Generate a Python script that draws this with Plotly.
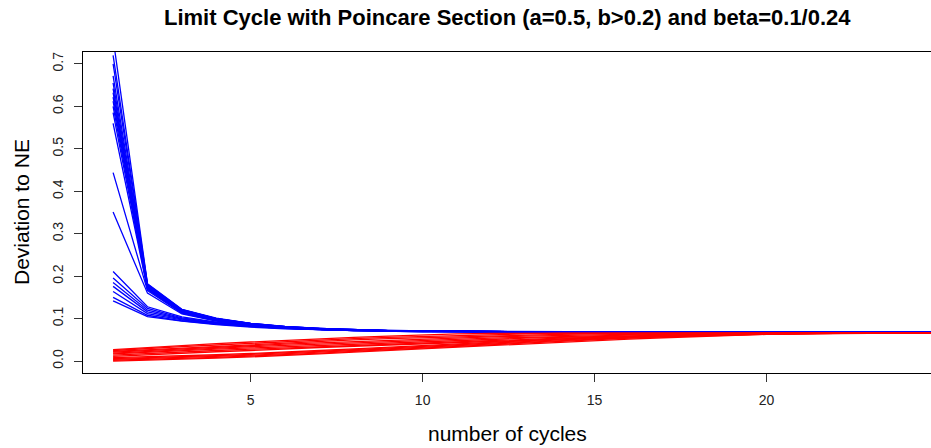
import plotly.graph_objects as go

# ---------------- data ----------------
cycles = [1, 2, 3, 4, 5, 6, 7, 8, 9, 10, 11, 12, 13, 14, 15, 16, 17, 18, 19, 20, 21, 22, 23, 24, 25]

y_tick_vals = [0.0, 0.1, 0.2, 0.3, 0.4, 0.5, 0.6, 0.7]
y_tick_text = ["0.0", "0.1", "0.2", "0.3", "0.4", "0.5", "0.6", "0.7"]
x_tick_vals = [5, 10, 15, 20]

# beta = 0.1 (blue) trajectories: deviation to NE per cycle
blue_01 = [0.760, 0.182, 0.122, 0.101, 0.089, 0.082, 0.077, 0.074, 0.072, 0.071, 0.070, 0.070, 0.069, 0.069, 0.069, 0.069, 0.068, 0.068, 0.068, 0.068, 0.068, 0.068, 0.068, 0.068, 0.068]
blue_02 = [0.720, 0.181, 0.121, 0.100, 0.089, 0.081, 0.077, 0.074, 0.072, 0.071, 0.070, 0.070, 0.069, 0.069, 0.069, 0.069, 0.068, 0.068, 0.068, 0.068, 0.068, 0.068, 0.068, 0.068, 0.068]
blue_03 = [0.700, 0.180, 0.121, 0.100, 0.089, 0.081, 0.077, 0.074, 0.072, 0.071, 0.070, 0.070, 0.069, 0.069, 0.069, 0.069, 0.068, 0.068, 0.068, 0.068, 0.068, 0.068, 0.068, 0.068, 0.068]
blue_04 = [0.672, 0.178, 0.120, 0.100, 0.088, 0.081, 0.077, 0.074, 0.072, 0.071, 0.070, 0.070, 0.069, 0.069, 0.069, 0.069, 0.068, 0.068, 0.068, 0.068, 0.068, 0.068, 0.068, 0.068, 0.068]
blue_05 = [0.655, 0.177, 0.119, 0.099, 0.088, 0.081, 0.076, 0.074, 0.072, 0.071, 0.070, 0.070, 0.069, 0.069, 0.069, 0.069, 0.068, 0.068, 0.068, 0.068, 0.068, 0.068, 0.068, 0.068, 0.068]
blue_06 = [0.642, 0.176, 0.118, 0.099, 0.088, 0.080, 0.076, 0.073, 0.072, 0.070, 0.070, 0.069, 0.069, 0.069, 0.068, 0.068, 0.068, 0.068, 0.068, 0.068, 0.068, 0.068, 0.068, 0.068, 0.068]
blue_07 = [0.632, 0.175, 0.118, 0.098, 0.087, 0.080, 0.076, 0.073, 0.071, 0.070, 0.070, 0.069, 0.069, 0.069, 0.068, 0.068, 0.068, 0.068, 0.068, 0.068, 0.068, 0.068, 0.068, 0.068, 0.068]
blue_08 = [0.622, 0.174, 0.117, 0.098, 0.087, 0.080, 0.076, 0.073, 0.071, 0.070, 0.070, 0.069, 0.069, 0.069, 0.068, 0.068, 0.068, 0.068, 0.068, 0.068, 0.068, 0.068, 0.068, 0.068, 0.068]
blue_09 = [0.612, 0.173, 0.116, 0.097, 0.086, 0.080, 0.076, 0.073, 0.071, 0.070, 0.070, 0.069, 0.069, 0.069, 0.068, 0.068, 0.068, 0.068, 0.068, 0.068, 0.068, 0.068, 0.068, 0.068, 0.068]
blue_10 = [0.600, 0.172, 0.115, 0.097, 0.086, 0.079, 0.075, 0.073, 0.071, 0.070, 0.070, 0.069, 0.069, 0.069, 0.068, 0.068, 0.068, 0.068, 0.068, 0.068, 0.068, 0.068, 0.068, 0.068, 0.068]
blue_11 = [0.585, 0.170, 0.114, 0.096, 0.085, 0.079, 0.075, 0.073, 0.071, 0.070, 0.070, 0.069, 0.069, 0.069, 0.068, 0.068, 0.068, 0.068, 0.068, 0.068, 0.068, 0.068, 0.068, 0.068, 0.068]
blue_12 = [0.560, 0.169, 0.114, 0.096, 0.085, 0.079, 0.075, 0.073, 0.071, 0.070, 0.070, 0.069, 0.069, 0.069, 0.068, 0.068, 0.068, 0.068, 0.068, 0.068, 0.068, 0.068, 0.068, 0.068, 0.068]
blue_13 = [0.444, 0.166, 0.113, 0.095, 0.085, 0.079, 0.075, 0.073, 0.071, 0.070, 0.070, 0.069, 0.069, 0.069, 0.068, 0.068, 0.068, 0.068, 0.068, 0.068, 0.068, 0.068, 0.068, 0.068, 0.068]
blue_14 = [0.351, 0.160, 0.111, 0.094, 0.084, 0.078, 0.075, 0.072, 0.071, 0.070, 0.070, 0.069, 0.069, 0.069, 0.068, 0.068, 0.068, 0.068, 0.068, 0.068, 0.068, 0.068, 0.068, 0.068, 0.068]
blue_15 = [0.211, 0.128, 0.104, 0.092, 0.084, 0.079, 0.075, 0.073, 0.071, 0.070, 0.070, 0.069, 0.069, 0.069, 0.068, 0.068, 0.068, 0.068, 0.068, 0.068, 0.068, 0.068, 0.068, 0.068, 0.068]
blue_16 = [0.196, 0.124, 0.102, 0.091, 0.083, 0.078, 0.075, 0.072, 0.071, 0.070, 0.070, 0.069, 0.069, 0.069, 0.068, 0.068, 0.068, 0.068, 0.068, 0.068, 0.068, 0.068, 0.068, 0.068, 0.068]
blue_17 = [0.185, 0.120, 0.100, 0.090, 0.083, 0.078, 0.075, 0.072, 0.071, 0.070, 0.070, 0.069, 0.069, 0.069, 0.068, 0.068, 0.068, 0.068, 0.068, 0.068, 0.068, 0.068, 0.068, 0.068, 0.068]
blue_18 = [0.176, 0.116, 0.099, 0.089, 0.082, 0.077, 0.074, 0.072, 0.071, 0.070, 0.070, 0.069, 0.069, 0.069, 0.068, 0.068, 0.068, 0.068, 0.068, 0.068, 0.068, 0.068, 0.068, 0.068, 0.068]
blue_19 = [0.164, 0.112, 0.097, 0.088, 0.082, 0.077, 0.074, 0.072, 0.070, 0.070, 0.070, 0.069, 0.069, 0.069, 0.068, 0.068, 0.068, 0.068, 0.068, 0.068, 0.068, 0.068, 0.068, 0.068, 0.068]
blue_20 = [0.150, 0.108, 0.095, 0.087, 0.081, 0.077, 0.074, 0.072, 0.070, 0.069, 0.069, 0.069, 0.069, 0.068, 0.068, 0.068, 0.068, 0.068, 0.068, 0.068, 0.068, 0.068, 0.068, 0.068, 0.068]
blue_21 = [0.142, 0.105, 0.094, 0.086, 0.080, 0.076, 0.074, 0.072, 0.070, 0.069, 0.069, 0.069, 0.069, 0.068, 0.068, 0.068, 0.068, 0.068, 0.068, 0.068, 0.068, 0.068, 0.068, 0.068, 0.068]

# beta = 0.24 (red) trajectories
red_01 = [0.027, 0.032, 0.037, 0.041, 0.045, 0.049, 0.053, 0.056, 0.059, 0.062, 0.064, 0.065, 0.066, 0.066, 0.066, 0.066, 0.066, 0.066, 0.066, 0.066, 0.066, 0.066, 0.066, 0.066, 0.066]
red_02 = [0.025, 0.030, 0.034, 0.038, 0.042, 0.046, 0.049, 0.053, 0.056, 0.058, 0.061, 0.063, 0.064, 0.065, 0.066, 0.066, 0.066, 0.066, 0.066, 0.066, 0.066, 0.066, 0.066, 0.066, 0.066]
red_03 = [0.023, 0.027, 0.031, 0.035, 0.039, 0.043, 0.046, 0.050, 0.053, 0.055, 0.058, 0.060, 0.062, 0.063, 0.064, 0.065, 0.066, 0.066, 0.066, 0.066, 0.066, 0.066, 0.066, 0.066, 0.066]
red_04 = [0.021, 0.025, 0.029, 0.033, 0.036, 0.040, 0.043, 0.046, 0.049, 0.052, 0.055, 0.057, 0.059, 0.061, 0.062, 0.063, 0.064, 0.065, 0.066, 0.066, 0.066, 0.066, 0.066, 0.066, 0.066]
red_05 = [0.019, 0.023, 0.027, 0.030, 0.034, 0.037, 0.040, 0.043, 0.046, 0.049, 0.052, 0.054, 0.056, 0.058, 0.060, 0.062, 0.063, 0.064, 0.065, 0.066, 0.066, 0.066, 0.066, 0.066, 0.066]
red_06 = [0.017, 0.021, 0.024, 0.028, 0.031, 0.034, 0.037, 0.040, 0.043, 0.046, 0.049, 0.051, 0.054, 0.056, 0.058, 0.060, 0.062, 0.063, 0.064, 0.065, 0.066, 0.066, 0.066, 0.066, 0.066]
red_07 = [0.014, 0.018, 0.021, 0.025, 0.028, 0.031, 0.034, 0.037, 0.040, 0.043, 0.046, 0.049, 0.051, 0.054, 0.056, 0.058, 0.060, 0.062, 0.063, 0.064, 0.065, 0.066, 0.066, 0.066, 0.066]
red_08 = [0.011, 0.015, 0.018, 0.022, 0.025, 0.029, 0.032, 0.035, 0.038, 0.041, 0.044, 0.047, 0.050, 0.052, 0.055, 0.057, 0.059, 0.061, 0.063, 0.064, 0.065, 0.066, 0.066, 0.066, 0.066]
red_09 = [0.008, 0.010, 0.012, 0.015, 0.018, 0.021, 0.025, 0.029, 0.033, 0.037, 0.041, 0.045, 0.049, 0.052, 0.055, 0.058, 0.060, 0.062, 0.064, 0.065, 0.066, 0.066, 0.066, 0.066, 0.066]
red_10 = [0.006, 0.008, 0.010, 0.013, 0.016, 0.019, 0.023, 0.027, 0.031, 0.035, 0.039, 0.043, 0.047, 0.050, 0.053, 0.056, 0.059, 0.061, 0.063, 0.064, 0.065, 0.066, 0.066, 0.066, 0.066]
red_11 = [0.004, 0.006, 0.008, 0.011, 0.014, 0.017, 0.021, 0.025, 0.029, 0.033, 0.037, 0.041, 0.045, 0.048, 0.052, 0.055, 0.058, 0.060, 0.062, 0.064, 0.065, 0.066, 0.066, 0.066, 0.066]
red_12 = [0.002, 0.004, 0.006, 0.009, 0.012, 0.015, 0.019, 0.023, 0.027, 0.031, 0.035, 0.039, 0.043, 0.047, 0.050, 0.054, 0.057, 0.059, 0.062, 0.063, 0.065, 0.066, 0.066, 0.066, 0.066]
red_13 = [0.000, 0.002, 0.004, 0.007, 0.010, 0.013, 0.017, 0.021, 0.025, 0.029, 0.033, 0.037, 0.041, 0.045, 0.049, 0.052, 0.055, 0.058, 0.061, 0.063, 0.064, 0.065, 0.066, 0.066, 0.066]

blue_lines = [blue_01, blue_02, blue_03, blue_04, blue_05, blue_06, blue_07, blue_08, blue_09, blue_10,
              blue_11, blue_12, blue_13, blue_14, blue_15, blue_16, blue_17, blue_18, blue_19, blue_20,
              blue_21]
red_lines = [red_01, red_02, red_03, red_04, red_05, red_06, red_07, red_08, red_09, red_10,
             red_11, red_12, red_13]

# ---------------- figure ----------------
fig = go.Figure()
for ys in blue_lines:
    fig.add_trace(go.Scatter(x=cycles[:len(ys)], y=ys, mode="lines",
                             line=dict(color="#0000FF", width=1.3),
                             showlegend=False, hoverinfo="skip"))
for ys in red_lines:
    fig.add_trace(go.Scatter(x=cycles[:len(ys)], y=ys, mode="lines",
                             line=dict(color="#FF0000", width=1.3),
                             showlegend=False, hoverinfo="skip"))

FONT = "Liberation Sans, Arial, sans-serif"

fig.update_layout(
    width=931, height=448,
    margin=dict(l=83, r=0, t=52, b=75),
    paper_bgcolor="white", plot_bgcolor="white",
    font=dict(family=FONT, color="black"),
    xaxis=dict(range=[0.125, 24.78], tickmode="array", tickvals=x_tick_vals,
               ticks="outside", ticklen=8, tickcolor="#333333", tickwidth=1,
               showline=True, linecolor="black", linewidth=1, mirror=True,
               showgrid=False, zeroline=False, tickfont=dict(size=14, color="#222222"),
               ticklabelstandoff=6),
    yaxis=dict(range=[-0.028, 0.728], tickmode="array", tickvals=y_tick_vals,
               ticktext=y_tick_text, tickangle=-90,
               ticks="outside", ticklen=8, tickcolor="#333333", tickwidth=1,
               showline=True, linecolor="black", linewidth=1, mirror=False,
               showgrid=False, zeroline=False, tickfont=dict(size=14, color="#222222"),
               ticklabelstandoff=5),
    annotations=[
        dict(text="<b>Limit Cycle with Poincare Section (a=0.5, b>0.2) and beta=0.1/0.24</b>",
             xref="paper", yref="paper", x=0.5, y=1.106, xanchor="center", yanchor="middle",
             showarrow=False, font=dict(size=22, family=FONT, color="black")),
        dict(text="number of cycles", xref="paper", yref="paper", x=0.5, y=-0.187,
             xanchor="center", yanchor="middle", showarrow=False,
             font=dict(size=21, family=FONT, color="black")),
        dict(text="Deviation to NE", xref="paper", yref="paper", x=-0.0719, y=0.5016,
             xanchor="center", yanchor="middle", textangle=-90, showarrow=False,
             font=dict(size=21, family=FONT, color="black")),
    ],
)

fig.write_html("out.html")
